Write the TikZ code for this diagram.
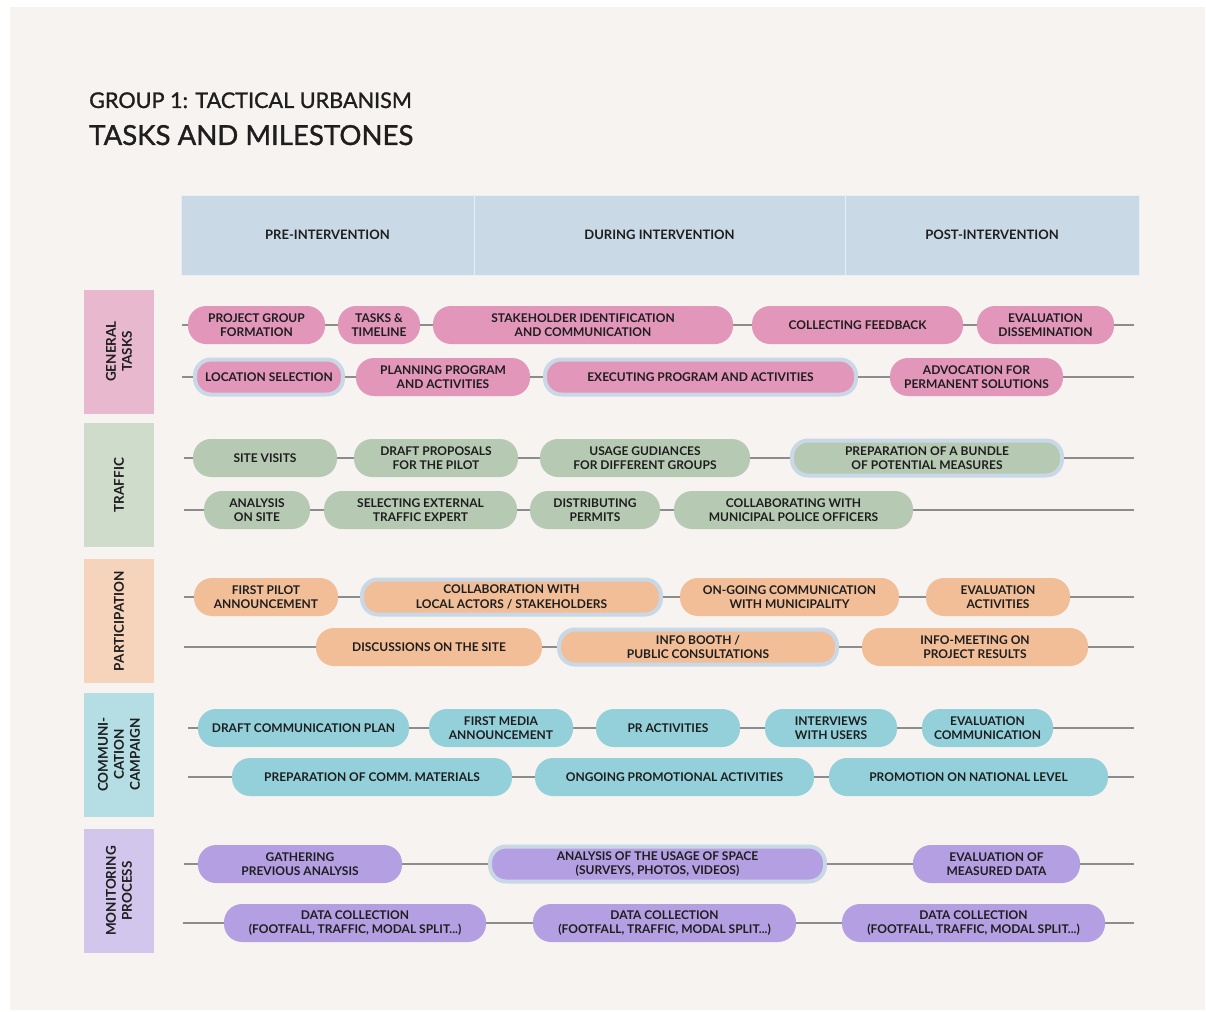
\documentclass[tikz,border=0pt]{standalone}
\usepackage{fontspec}
\setmainfont{Lato}
\newfontfamily\titlefont[FakeBold=1.2]{Lato}
\usepackage{xcolor}
\definecolor{bgbeige}{HTML}{F7F3F0}
\definecolor{ink}{HTML}{1E1E1E}
\definecolor{headblue}{HTML}{C9D9E6}
\definecolor{haloblue}{HTML}{C8D8E6}
\definecolor{linegray}{HTML}{8C8C8C}
\definecolor{gpill}{HTML}{E296BA}
\definecolor{gbox}{HTML}{E8B8CE}
\definecolor{tpill}{HTML}{B6CAB3}
\definecolor{tbox}{HTML}{CFDBCB}
\definecolor{ppill}{HTML}{F1BE98}
\definecolor{pbox}{HTML}{F6D4BC}
\definecolor{cpill}{HTML}{93D0DA}
\definecolor{cbox}{HTML}{B5DEE4}
\definecolor{mpill}{HTML}{B49FE3}
\definecolor{mbox}{HTML}{D3C6EC}
\tikzset{
  pill/.style={rounded corners=18pt, minimum height=38pt, inner sep=0pt, align=center, text=ink,
    font=\bfseries\fontsize{12}{14.5}\selectfont},
  halo/.style={draw=haloblue, line width=4pt, minimum height=35pt, rounded corners=16pt},
  phase/.style={fill=headblue, draw=white!60!headblue, line width=1pt, minimum height=80pt, inner sep=0pt,
    text=ink, font=\bfseries\fontsize{13}{15}\selectfont},
  cat/.style={rotate=90, minimum width=124pt, minimum height=70pt, inner sep=0pt, align=center, text=ink,
    font=\bfseries\fontsize{13.5}{16}\selectfont},
  conn/.style={draw=linegray, line width=1.3pt}
}

\begin{document}
\begin{tikzpicture}[x=1pt, y=-1pt]
\useasboundingbox (0,0) rectangle (1206,1011);
\fill[white] (0,0) rectangle (1206,1011);
\fill[bgbeige] (10,7) rectangle (1205,1010);

% titles
\node[anchor=base west, inner sep=0pt, text=ink, font=\titlefont\fontsize{21.6}{24}\selectfont] (group) at (89,108) {GROUP 1: TACTICAL URBANISM};
\node[anchor=base west, inner sep=0pt, text=ink, font=\titlefont\fontsize{27.6}{32}\selectfont] (title) at (89,145) {TASKS AND MILESTONES};

% phases
\node[phase, minimum width=293pt] (pre) at (327.5,235) {PRE-INTERVENTION};
\node[phase, minimum width=371pt] (during) at (659.5,235) {DURING INTERVENTION};
\node[phase, minimum width=294pt] (post) at (992,235) {POST-INTERVENTION};

% categories
\node[cat, fill=gbox] (gen) at (119,351.5) {GENERAL\\TASKS};
\node[cat, fill=tbox] (traffic) at (119,485) {TRAFFIC};
\node[cat, fill=pbox] (partic) at (119,621) {PARTICIPATION};
\node[cat, fill=cbox] (comm) at (119,754.5) {COMMUNI-\\CATION\\CAMPAIGN};
\node[cat, fill=mbox] (monit) at (119,891) {MONITORING\\PROCESS};

% general tasks
\node[pill, fill=gpill, minimum width=137pt] (g1a) at (256.5,325) {PROJECT GROUP\\FORMATION};
\node[pill, fill=gpill, minimum width=82pt] (g1b) at (379,325) {TASKS \&\\TIMELINE};
\node[pill, fill=gpill, minimum width=300pt] (g1c) at (583,325) {STAKEHOLDER IDENTIFICATION\\AND COMMUNICATION};
\node[pill, fill=gpill, minimum width=211pt] (g1d) at (857.5,325) {COLLECTING FEEDBACK};
\node[pill, fill=gpill, minimum width=137pt] (g1e) at (1045.5,325) {EVALUATION\\DISSEMINATION};

\node[pill, halo, fill=gpill, minimum width=148pt] (g2a) at (269,377) {LOCATION SELECTION};
\node[pill, fill=gpill, minimum width=174pt] (g2b) at (443,377) {PLANNING PROGRAM\\AND ACTIVITIES};
\node[pill, halo, fill=gpill, minimum width=311pt] (g2c) at (700.5,377) {EXECUTING PROGRAM AND ACTIVITIES};
\node[pill, fill=gpill, minimum width=173pt] (g2d) at (976.5,377) {ADVOCATION FOR\\PERMANENT SOLUTIONS};

% traffic
\node[pill, fill=tpill, minimum width=144pt] (t1a) at (265,458) {SITE VISITS};
\node[pill, fill=tpill, minimum width=164pt] (t1b) at (436,458) {DRAFT PROPOSALS\\FOR THE PILOT};
\node[pill, fill=tpill, minimum width=210pt] (t1c) at (645,458) {USAGE GUDIANCES\\FOR DIFFERENT GROUPS};
\node[pill, halo, fill=tpill, minimum width=270pt] (t1d) at (927,458) {PREPARATION OF A BUNDLE\\OF POTENTIAL MEASURES};

\node[pill, fill=tpill, minimum width=106pt] (t2a) at (257,510) {ANALYSIS\\ON SITE};
\node[pill, fill=tpill, minimum width=193pt] (t2b) at (420.5,510) {SELECTING EXTERNAL\\TRAFFIC EXPERT};
\node[pill, fill=tpill, minimum width=130pt] (t2c) at (595,510) {DISTRIBUTING\\PERMITS};
\node[pill, fill=tpill, minimum width=239pt] (t2d) at (793.5,510) {COLLABORATING WITH\\MUNICIPAL POLICE OFFICERS};

% participation
\node[pill, fill=ppill, minimum width=144pt] (p1a) at (266,597) {FIRST PILOT\\ANNOUNCEMENT};
\node[pill, halo, fill=ppill, minimum width=299pt] (p1b) at (511.5,597) {COLLABORATION WITH\\LOCAL ACTORS / STAKEHOLDERS};
\node[pill, fill=ppill, minimum width=219pt] (p1c) at (789.5,597) {ON-GOING COMMUNICATION\\WITH MUNICIPALITY};
\node[pill, fill=ppill, minimum width=144pt] (p1d) at (998,597) {EVALUATION\\ACTIVITIES};

\node[pill, fill=ppill, minimum width=226pt] (p2a) at (429,647) {DISCUSSIONS ON THE SITE};
\node[pill, halo, fill=ppill, minimum width=278pt] (p2b) at (698,647) {INFO BOOTH /\\PUBLIC CONSULTATIONS};
\node[pill, fill=ppill, minimum width=226pt] (p2c) at (975,647) {INFO-MEETING ON\\PROJECT RESULTS};

% communication campaign
\node[pill, fill=cpill, minimum width=211pt] (c1a) at (303.5,728) {DRAFT COMMUNICATION PLAN};
\node[pill, fill=cpill, minimum width=144pt] (c1b) at (501,728) {FIRST MEDIA\\ANNOUNCEMENT};
\node[pill, fill=cpill, minimum width=144pt] (c1c) at (668,728) {PR ACTIVITIES};
\node[pill, fill=cpill, minimum width=132pt] (c1d) at (831,728) {INTERVIEWS\\WITH USERS};
\node[pill, fill=cpill, minimum width=131pt] (c1e) at (987.5,728) {EVALUATION\\COMMUNICATION};

\node[pill, fill=cpill, minimum width=280pt] (c2a) at (372,777) {PREPARATION OF COMM. MATERIALS};
\node[pill, fill=cpill, minimum width=279pt] (c2b) at (674.5,777) {ONGOING PROMOTIONAL ACTIVITIES};
\node[pill, fill=cpill, minimum width=279pt] (c2c) at (968.5,777) {PROMOTION ON NATIONAL LEVEL};

% monitoring process
\node[pill, fill=mpill, minimum width=204pt] (m1a) at (300,864) {GATHERING\\PREVIOUS ANALYSIS};
\node[pill, halo, fill=mpill, minimum width=335pt] (m1b) at (657.5,864) {ANALYSIS OF THE USAGE OF SPACE\\(SURVEYS, PHOTOS, VIDEOS)};
\node[pill, fill=mpill, minimum width=167pt] (m1c) at (996.5,864) {EVALUATION OF\\MEASURED DATA};

\node[pill, fill=mpill, minimum width=262pt] (m2a) at (355,923) {DATA COLLECTION\\(FOOTFALL, TRAFFIC, MODAL SPLIT...)};
\node[pill, fill=mpill, minimum width=263pt] (m2b) at (664.5,923) {DATA COLLECTION\\(FOOTFALL, TRAFFIC, MODAL SPLIT...)};
\node[pill, fill=mpill, minimum width=263pt] (m2c) at (973.5,923) {DATA COLLECTION\\(FOOTFALL, TRAFFIC, MODAL SPLIT...)};

% row ends
\coordinate (g1in) at (182,325);  \coordinate (g1out) at (1134,325);
\coordinate (g2in) at (182,377);  \coordinate (g2out) at (1134,377);
\coordinate (t1in) at (184,458);  \coordinate (t1out) at (1134,458);
\coordinate (t2in) at (184,510);  \coordinate (t2out) at (1134,510);
\coordinate (p1in) at (184,597);  \coordinate (p1out) at (1134,597);
\coordinate (p2in) at (184,647);  \coordinate (p2out) at (1134,647);
\coordinate (c1in) at (188,728);  \coordinate (c1out) at (1134,728);
\coordinate (c2in) at (188,777);  \coordinate (c2out) at (1134,777);
\coordinate (m1in) at (184,864);  \coordinate (m1out) at (1134,864);
\coordinate (m2in) at (183,923);  \coordinate (m2out) at (1134,923);

% timelines
\draw[conn] (g1in) -- (g1a) -- (g1b) -- (g1c) -- (g1d) -- (g1e) -- (g1out);
\draw[conn] (g2in) -- (g2a) -- (g2b) -- (g2c) -- (g2d) -- (g2out);
\draw[conn] (t1in) -- (t1a) -- (t1b) -- (t1c) -- (t1d) -- (t1out);
\draw[conn] (t2in) -- (t2a) -- (t2b) -- (t2c) -- (t2d) -- (t2out);
\draw[conn] (p1in) -- (p1a) -- (p1b) -- (p1c) -- (p1d) -- (p1out);
\draw[conn] (p2in) -- (p2a) -- (p2b) -- (p2c) -- (p2out);
\draw[conn] (c1in) -- (c1a) -- (c1b) -- (c1c) -- (c1d) -- (c1e) -- (c1out);
\draw[conn] (c2in) -- (c2a) -- (c2b) -- (c2c) -- (c2out);
\draw[conn] (m1in) -- (m1a) -- (m1b) -- (m1c) -- (m1out);
\draw[conn] (m2in) -- (m2a) -- (m2b) -- (m2c) -- (m2out);

\end{tikzpicture}
\end{document}
